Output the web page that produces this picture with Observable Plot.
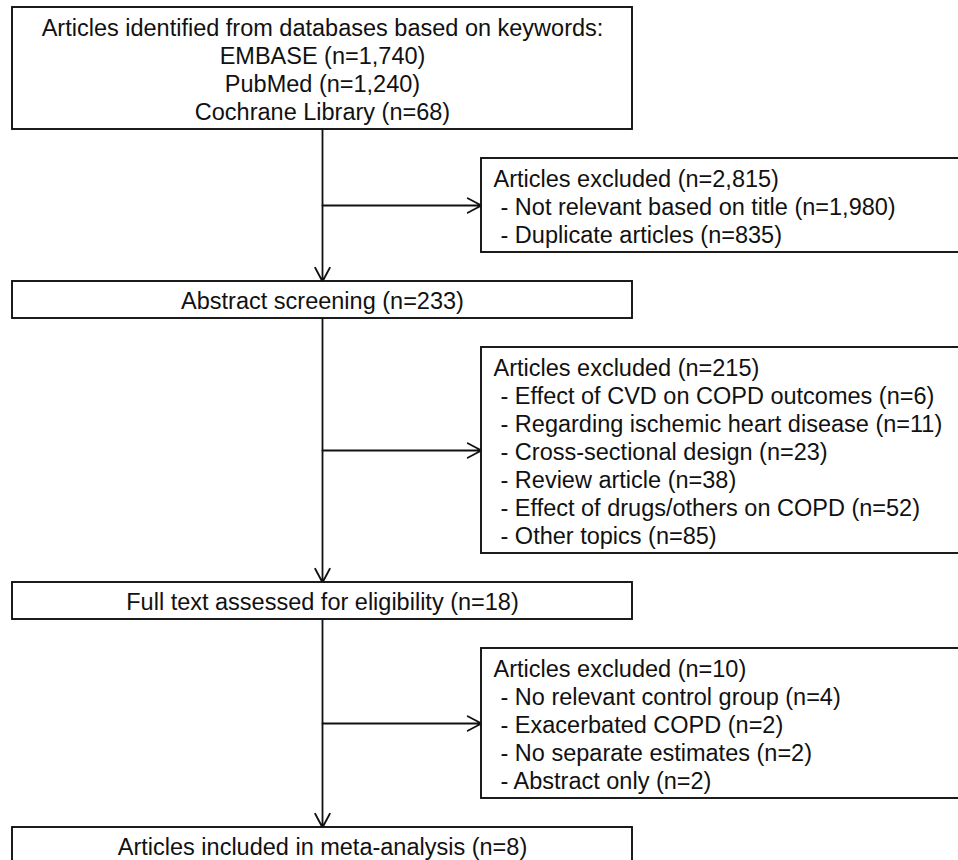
<!DOCTYPE html>
<html>
<head>
<meta charset="utf-8">
<script src="https://cdn.jsdelivr.net/npm/d3@7"></script>
<script src="https://cdn.jsdelivr.net/npm/@observablehq/plot@0.6"></script>
<style>
  html, body { margin: 0; padding: 0; background: #fff; }
  #chart svg { display: block; }
</style>
</head>
<body>
<div id="chart"></div>
<script>
// ---- Content (text & counts) ----
const sourceDatabases = ["EMBASE (n=1,740)", "PubMed (n=1,240)", "Cochrane Library (n=68)"];
const stageLabels = [
  "Articles identified from databases based on keywords:",
  "Abstract screening (n=233)",
  "Full text assessed for eligibility (n=18)",
  "Articles included in meta-analysis (n=8)"
];
const exclusionTitles = [
  "Articles excluded (n=2,815)",
  "Articles excluded (n=215)",
  "Articles excluded (n=10)"
];
const exclusionReasons1 = [
  "- Not relevant based on title (n=1,980)",
  "- Duplicate articles (n=835)"
];
const exclusionReasons2 = [
  "- Effect of CVD on COPD outcomes (n=6)",
  "- Regarding ischemic heart disease (n=11)",
  "- Cross-sectional design (n=23)",
  "- Review article (n=38)",
  "- Effect of drugs/others on COPD (n=52)",
  "- Other topics (n=85)"
];
const exclusionReasons3 = [
  "- No relevant control group (n=4)",
  "- Exacerbated COPD (n=2)",
  "- No separate estimates (n=2)",
  "- Abstract only (n=2)"
];
const exclusionReasons = [exclusionReasons1, exclusionReasons2, exclusionReasons3];

// ---- Layout (separate from the data) ----
const W = 958, H = 860;
const layout = {
  mainX1: 12, mainX2: 632, sideX1: 481, sideX2: 962,
  top: 7, gap: 29, lineH: 28, pad: 10, singleH: 37,
  fontSize: 23.5, titlePadX: 12, reasonPadX: 19
};
const mainCX = (layout.mainX1 + layout.mainX2) / 2;

// Build the sequence of boxes: stage, exclusion, stage, exclusion, ...
const seq = [];
stageLabels.forEach((label, i) => {
  const lines = i === 0 ? [label, ...sourceDatabases] : [label];
  seq.push({kind: "main", lines});
  if (i < exclusionTitles.length) {
    seq.push({kind: "side", lines: [exclusionTitles[i], ...exclusionReasons[i]]});
  }
});
let cursor = layout.top;
for (const b of seq) {
  const n = b.lines.length;
  b.h = n === 1 ? layout.singleH : n * layout.lineH + layout.pad;
  b.y1 = cursor; b.y2 = cursor + b.h; b.cy = (b.y1 + b.y2) / 2;
  b.x1 = b.kind === "main" ? layout.mainX1 : layout.sideX1;
  b.x2 = b.kind === "main" ? layout.mainX2 : layout.sideX2;
  cursor = b.y2 + layout.gap;
}

const textRows = [];
for (const b of seq) {
  const n = b.lines.length;
  b.lines.forEach((t, j) => {
    const y = b.cy + (j - (n - 1) / 2) * layout.lineH + 1.5;
    const x = b.kind === "main" ? mainCX : b.x1 + (j === 0 ? layout.titlePadX : layout.reasonPadX);
    textRows.push({text: t, x, y, anchor: b.kind === "main" ? "middle" : "start"});
  });
}

const mains = seq.filter(d => d.kind === "main");
const sides = seq.filter(d => d.kind === "side");
const downArrows = d3.pairs(mains).map(([a, b]) => ({x1: mainCX, y1: a.y2, x2: mainCX, y2: b.y1}));
const sideArrows = sides.map(s => ({x1: mainCX, y1: s.cy, x2: s.x1, y2: s.cy}));

const font = "'Liberation Sans', Arial, Helvetica, sans-serif";
const arrowOpts = {x1: "x1", y1: "y1", x2: "x2", y2: "y2", stroke: "#111", strokeWidth: 1.8,
  headLength: 13, headAngle: 56, bend: 0};

const chart = Plot.plot({
  width: W, height: H,
  margin: 0,
  x: {domain: [0, W], range: [0, W], axis: null},
  y: {domain: [0, H], range: [0, H], axis: null},
  style: {background: "#fff", fontFamily: font},
  marks: [
    Plot.arrow(downArrows, arrowOpts),
    Plot.arrow(sideArrows, arrowOpts),
    Plot.rect(seq, {x1: "x1", x2: "x2", y1: "y1", y2: "y2", fill: "#fff", stroke: "#111", strokeWidth: 1.9}),
    Plot.text(textRows.filter(d => d.anchor === "middle"), {x: "x", y: "y", text: "text",
      textAnchor: "middle", lineAnchor: "middle", fontSize: layout.fontSize, fill: "#111", fontFamily: font}),
    Plot.text(textRows.filter(d => d.anchor === "start"), {x: "x", y: "y", text: "text",
      textAnchor: "start", lineAnchor: "middle", fontSize: layout.fontSize, fill: "#111", fontFamily: font})
  ]
});
document.getElementById("chart").append(chart);
</script>
</body>
</html>
